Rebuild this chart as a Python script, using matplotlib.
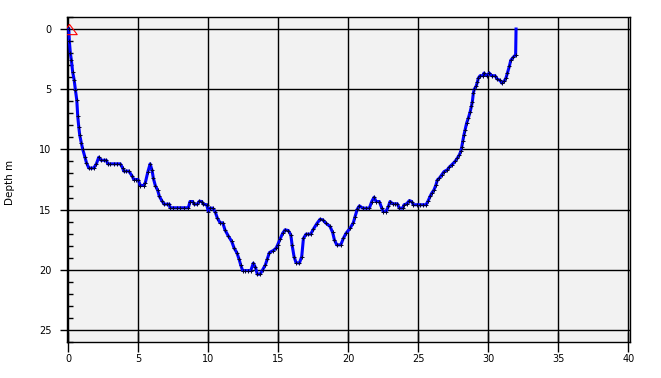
import matplotlib
matplotlib.use("Agg")
import matplotlib.pyplot as plt
from matplotlib.ticker import MultipleLocator

distance = [0.03, 0.07, 0.14, 0.21, 0.31, 0.41, 0.50, 0.60, 0.67, 0.74, 0.81, 0.93,
            1.03, 1.17, 1.29, 1.46, 1.63, 1.81, 2.00, 2.17, 2.34, 2.52, 2.71, 2.81,
            3.00, 3.25, 3.50, 3.71, 3.88, 3.95, 4.12, 4.31, 4.55, 4.67, 4.82, 4.98,
            5.14, 5.38, 5.50, 5.67, 5.84, 5.98, 6.07, 6.21, 6.38, 6.50, 6.67, 6.84,
            7.02, 7.21, 7.26, 7.50, 7.75, 8.00, 8.28, 8.57, 8.69, 8.88, 8.98, 9.21,
            9.36, 9.53, 9.64, 9.88, 10.00, 10.12, 10.31, 10.48, 10.64, 10.84, 11.03,
            11.19, 11.43, 11.67, 11.84, 12.03, 12.19, 12.31, 12.45, 12.65, 12.85,
            13.03, 13.21, 13.36, 13.50, 13.69, 13.88, 14.07, 14.21, 14.36, 14.64,
            14.84, 14.95, 15.12, 15.31, 15.48, 15.71, 15.89, 15.98, 16.12, 16.26,
            16.50, 16.67, 16.79, 16.98, 17.15, 17.31, 17.50, 17.74, 17.98, 18.17,
            18.40, 18.69, 18.88, 19.00, 19.17, 19.46, 19.64, 19.84, 20.12, 20.36,
            20.48, 20.64, 20.79, 21.03, 21.25, 21.50, 21.67, 21.84, 21.98, 22.21,
            22.39, 22.50, 22.69, 22.86, 22.98, 23.17, 23.35, 23.50, 23.64, 23.88,
            23.98, 24.17, 24.36, 24.53, 24.64, 24.90, 25.12, 25.35, 25.55, 25.71,
            25.84, 25.96, 26.12, 26.26, 26.36, 26.50, 26.67, 26.84, 27.07, 27.21,
            27.39, 27.62, 27.79, 27.93, 28.03, 28.10, 28.17, 28.26, 28.34, 28.45,
            28.57, 28.69, 28.79, 28.86, 28.93, 29.00, 29.12, 29.21, 29.29, 29.41,
            29.60, 29.69, 29.88, 30.07, 30.24, 30.48, 30.64, 30.84, 30.96, 31.12,
            31.26, 31.36, 31.50, 31.60, 31.79, 31.95, 31.98]
depth = [0.0, 1.0, 2.0, 2.55, 3.6, 4.2, 5.05, 5.9, 7.26, 8.1, 8.8, 9.5,
         10.0, 10.6, 11.1, 11.55, 11.55, 11.55, 11.2, 10.65, 10.9, 10.9, 10.9, 11.2,
         11.2, 11.2, 11.2, 11.2, 11.55, 11.8, 11.8, 11.8, 12.2, 12.5, 12.5, 12.5,
         13.0, 13.0, 12.75, 11.9, 11.2, 11.75, 12.4, 13.0, 13.4, 13.9, 14.25, 14.55,
         14.55, 14.55, 14.85, 14.85, 14.85, 14.85, 14.85, 14.85, 14.33, 14.33, 14.55, 14.55,
         14.3, 14.33, 14.55, 14.6, 15.16, 14.88, 14.88, 15.16, 15.7, 16.1, 16.1,
         16.7, 17.2, 17.65, 18.2, 18.57, 19.1, 19.6, 20.07, 20.07, 20.07,
         20.07, 19.45, 19.8, 20.37, 20.37, 20.0, 19.6, 19.1, 18.57, 18.4,
         18.2, 17.93, 17.45, 16.96, 16.68, 16.74, 17.1, 17.93, 18.9, 19.4,
         19.45, 18.9, 17.4, 17.04, 17.04, 17.04, 16.63, 16.18, 15.8, 15.85,
         16.13, 16.4, 16.9, 17.5, 17.93, 17.93, 17.4, 16.96, 16.55, 16.08,
         15.58, 14.96, 14.69, 14.88, 14.88, 14.88, 14.33, 13.97, 14.33, 14.33,
         14.88, 15.16, 15.16, 14.74, 14.33, 14.52, 14.52, 14.52, 14.88, 14.88,
         14.6, 14.52, 14.25, 14.33, 14.6, 14.6, 14.6, 14.6, 14.6, 14.25,
         13.9, 13.63, 13.36, 12.94, 12.53, 12.39, 12.11, 11.84, 11.7, 11.47,
         11.28, 11.0, 10.72, 10.45, 10.17, 9.81, 9.34, 8.79, 8.37, 7.81,
         7.40, 6.93, 6.43, 6.02, 5.32, 4.99, 4.77, 4.44, 4.07, 3.88,
         3.88, 3.66, 3.88, 3.66, 3.88, 3.88, 4.16, 4.27, 4.49, 4.35,
         4.07, 3.66, 3.10, 2.60, 2.33, 2.14, 0.0]

start_x = [0.05]
start_depth = [0.0]

x_ticks = [0, 5, 10, 15, 20, 25, 30, 35, 40]
y_ticks = [0, 5, 10, 15, 20, 25]

fig = plt.figure(figsize=(6.61, 3.78), dpi=100)
ax = fig.add_axes([66.7 / 661, 1 - 342 / 378, (630 - 66.7) / 661, (342 - 17) / 378])
ax.set_facecolor('#f2f2f2')

ax.plot(distance, depth, color='#0000ff', lw=2.2, zorder=3)
ax.plot(distance[:-1], depth[:-1], ls='none', marker='+', ms=3.0, mew=0.7,
        mec='#000030', zorder=3.5)
tri = [(0, 1), (-1.5, -1), (1.5, -1), (0, 1)]
ax.plot(start_x, start_depth, marker=tri, ms=11.1, mfc='none', mec='red', mew=0.8,
        ls='none', zorder=4)

ax.set_xlim(-0.12, 40.12)
ax.set_ylim(26.0, -1.0)
ax.set_xticks(x_ticks)
ax.set_yticks(y_ticks)
ax.yaxis.set_minor_locator(MultipleLocator(1))
ax.grid(True, which='major', color='black', lw=1.0, zorder=1)
ax.set_axisbelow(True)
for s in ax.spines.values():
    s.set_color('black')
    s.set_linewidth(1.0)

ax.tick_params(axis='x', which='major', direction='inout', length=14, width=1,
               labelsize=7, pad=2)
ax.tick_params(axis='y', which='major', direction='out', length=5, width=1,
               labelsize=7, pad=6)
ax.tick_params(axis='y', which='minor', direction='in', length=4.3, width=1)

fig.text(10 / 661, 1 - 182 / 378, 'Depth m', rotation=90, ha='center', va='center',
         fontsize=7.5)

fig.savefig('out.png', dpi=100)
